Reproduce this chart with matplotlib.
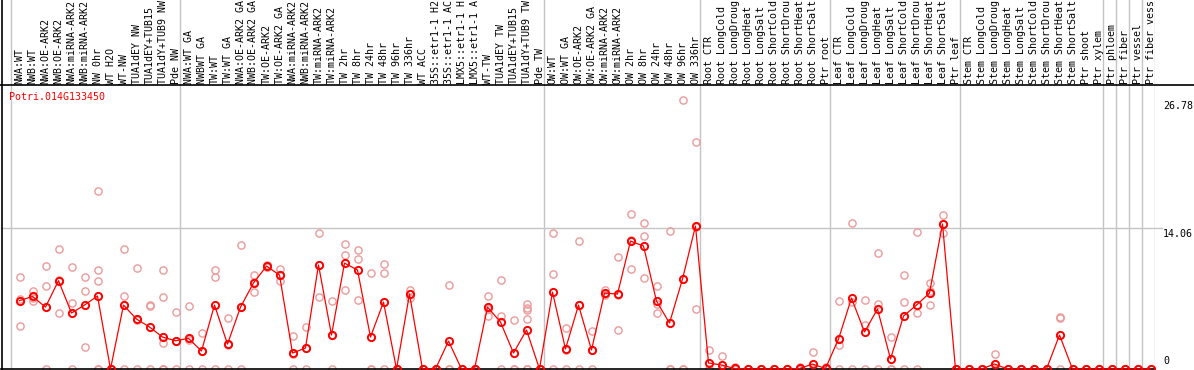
"""Expression profile of Potri.014G133450 across sample groups."""

import matplotlib

matplotlib.use("Agg")
import matplotlib.pyplot as plt
from matplotlib.lines import Line2D
from matplotlib.transforms import blended_transform_factory

GENE = "Potri.014G133450"

SAMPLES = [
    # NW
    "NWA:WT", "NWB:WT", "NWA:OE-ARK2", "NWB:OE-ARK2", "NWA:miRNA-ARK2",
    "NWB:miRNA-ARK2", "NW 0hr", "WT H2O", "WT-NW", "TUA1dEY NW",
    "TUA1dEY+TUB15 NW", "TUA1dY+TUB9 NW", "Pde NW",
    # TW
    "NWA:WT GA", "NWBWT GA", "TW:WT", "TW:WT GA", "NWA:OE-ARK2 GA",
    "NWB:OE-ARK2 GA", "TW:OE-ARK2", "TW:OE-ARK2 GA", "NWA:miRNA-ARK2 GA",
    "NWB:miRNA-ARK2 GA", "TW:miRNA-ARK2", "TW:miRNA-ARK2 GA", "TW 2hr",
    "TW 8hr", "TW 24hr", "TW 48hr", "TW 96hr", "TW 336hr", "WT ACC",
    "35S::etr1-1 H2O", "35S::etr1-1 ACC", "LMX5::etr1-1 H2O",
    "LMX5::etr1-1 ACC", "WT-TW", "TUA1dEY TW", "TUA1dEY+TUB15 TW",
    "TUA1dY+TUB9 TW", "Pde TW",
    # OW
    "OW:WT", "OW:WT GA", "OW:OE-ARK2", "OW:OE-ARK2 GA", "OW:miRNA-ARK2",
    "OW:miRNA-ARK2 GA", "OW 2hr", "OW 8hr", "OW 24hr", "OW 48hr", "OW 96hr",
    "OW 336hr",
    # root / leaf / stem
    "Root CTR", "Root LongCold", "Root LongDrought", "Root LongHeat",
    "Root LongSalt", "Root ShortCold", "Root ShortDrought", "Root ShortHeat",
    "Root ShortSalt", "Ptr root",
    "Leaf CTR", "Leaf LongCold", "Leaf LongDrought", "Leaf LongHeat",
    "Leaf LongSalt", "Leaf ShortCold", "Leaf ShortDrought", "Leaf ShortHeat",
    "Leaf ShortSalt", "Ptr leaf",
    "Stem CTR", "Stem LongCold", "Stem LongDrought", "Stem LongHeat",
    "Stem LongSalt", "Stem ShortCold", "Stem ShortDrought", "Stem ShortHeat",
    "Stem ShortSalt", "Ptr shoot", "Ptr xylem",
    "Ptr phloem", "Ptr fiber", "Ptr vessel", "Ptr fiber vessel",
]

GROUP_SIZES = [13, 28, 12, 10, 10, 11, 1, 1, 1, 1]

MEANS = [
    6.80, 7.22, 6.16, 8.79, 5.57, 6.36, 7.26, 0.00, 6.36, 4.97,
    4.18, 3.18, 2.81, 3.05, 1.79, 6.36, 2.48, 6.16, 8.56, 10.24,
    9.35, 1.59, 2.09, 10.35, 3.38, 10.54, 9.85, 3.18, 6.66, 0.00,
    7.46, 0.00, 0.00, 2.78, 0.00, 0.00, 6.16, 4.67, 1.59, 3.88,
    0.00, 7.65, 1.99, 6.36, 1.89, 7.56, 7.46, 12.73, 12.24, 6.76,
    4.57, 8.95, 14.23, 0.60, 0.40, 0.05, 0.00, 0.00, 0.00, 0.00,
    0.05, 0.49, 0.05, 2.98, 7.06, 3.68, 5.97, 0.99, 5.27, 6.36,
    7.56, 14.43, 0.00, 0.00, 0.00, 0.50, 0.00, 0.00, 0.00, 0.00,
    3.38, 0.00, 0.00, 0.00, 0.00, 0.00, 0.00, 0.00,
]

ZERO = [0, 0, 0]
REPLICATES = [
    [9.15, 6.96, 4.27], [7.79, 6.80, 7.07], [10.24, 8.25, 0], [11.94, 5.57, 8.86],
    [10.18, 6.53, 0], [9.15, 7.76, 2.19], [17.70, 9.85, 8.75, 0, 0], ZERO,
    [11.94, 7.26, 0], [10.05, 4.86, 0], [6.36, 6.23, 0], [9.85, 7.16, 2.58, 0, 0, 0],
    [5.67, 2.76, 0], [6.27, 2.88, 0], [3.58, 1.79, 0], [9.85, 9.15, 0],
    [5.07, 2.37, 0], [12.34, 6.14, 0], [9.35, 7.65, 8.68], [10.34, 10.20, 10.18],
    [9.95, 8.75, 9.35], [3.28, 1.49, 0], [4.18, 2.09, 0], [13.53, 7.16, 10.36],
    [6.76, 3.38, 0], [12.44, 11.34, 7.86], [11.84, 10.94, 6.86], [9.55, 0, 0],
    [10.44, 9.55, 0], ZERO, [7.86, 7.06, 7.46], ZERO,
    ZERO, [8.36, 0, 0], ZERO, ZERO,
    [7.26, 5.27, 5.95], [8.85, 5.24, 0], [4.87, 0, 0], [6.50, 6.07, 5.87, 4.97, 0, 0],
    ZERO, [13.53, 9.45, 0], [4.08, 1.89, 0], [12.73, 6.36, 0],
    [3.78, 1.89, 0], [7.86, 7.36, 7.46], [11.14, 3.88, 7.36], [15.42, 9.95, 12.82],
    [14.52, 13.23, 9.05], [8.26, 6.47, 5.57], [13.73, 0, 0], [26.78, 0, 0],
    [22.58, 5.97, 14.14], [1.89, 0, 0], [1.30, 0, 0], [0.15, 0, 0],
    ZERO, ZERO, ZERO, ZERO,
    [0.15, 0, 0], [1.69, 0, 0], [0.15, 0, 0], [6.76, 2.35, 0],
    [14.52, 6.66, 0], [6.86, 4.37, 0], [11.54, 6.47, 0], [3.18, 0, 0],
    [9.35, 6.66, 0], [13.63, 5.57, 0], [8.55, 6.37, 7.76], [15.32, 13.53, 14.43],
    ZERO, ZERO, ZERO, [1.49, 0, 0],
    ZERO, ZERO, ZERO, ZERO,
    [5.17, 5.07, 0], ZERO, ZERO, ZERO,
    ZERO, ZERO, ZERO, ZERO,
]

Y_TICKS = [26.78, 14.06, 0]

W, H = 1194, 370
HEADER = 85  # header band height in pixels
PLOT_RIGHT = 1155
LABEL_CHARS = 14  # the header only has room for this many characters
GRAY = "#c4c4c4"
PALE = "#ec9a9a"
MONO = "DejaVu Sans Mono"
FS = 7.2


def main() -> None:
    n = len(SAMPLES)
    xs = list(range(n))
    # column i sits at pixel 19.5 + 13 * i
    x_lo = (1 - 19.5) / 13
    x_hi = (PLOT_RIGHT - 19.5) / 13

    fig = plt.figure(figsize=(W / 100, H / 100), dpi=100)
    ax = fig.add_axes([1 / W, 1 / H, (PLOT_RIGHT - 1) / W, (H - 1 - HEADER) / H])
    hx = fig.add_axes([1 / W, 1 - HEADER / H, (PLOT_RIGHT - 1) / W, HEADER / H], sharex=ax)
    ax.set_xlim(x_lo, x_hi)
    ax.set_ylim(0, 26.78 * (H - 1 - HEADER) / (369.3 - 100.2))

    for s in ("top", "right", "left"):
        ax.spines[s].set_visible(False)
    ax.spines["bottom"].set_linewidth(1.2)
    ax.set_xticks([])
    ax.set_yticks([])
    hx.axis("off")

    # group separators
    bounds = [-0.67]
    start = 0
    for size in GROUP_SIZES:
        start += size
        bounds.append(start - 0.67)
    for b in bounds:
        ax.axvline(b, color=GRAY, lw=1.0, zorder=1)
        hx.axvline(b, color=GRAY, lw=1.0, zorder=1)

    ax.plot([x_lo, (1162 - 19.5) / 13], [14.06, 14.06], color=GRAY, lw=1.0,
            clip_on=False, zorder=1)

    # replicate points
    for x, reps in zip(xs, REPLICATES):
        ax.plot([x] * len(reps), reps, ls="none", marker="o", ms=5.2, mfc="none",
                mec=PALE, mew=1.0, clip_on=False, zorder=2)

    ax.plot(xs, MEANS, color="red", lw=0.9, marker="o", ms=5.2, mfc="none",
            mec="red", mew=1.4, clip_on=False, zorder=3)

    # header labels (fixed-width band, long names are cut like the source)
    for x, name in zip(xs, SAMPLES):
        hx.text(x, 1.5 / HEADER, name[:LABEL_CHARS].rstrip(), rotation=90,
                ha="center", va="bottom", family=MONO, fontsize=FS, color="black")

    fig.text(9.5 / W, 1 - 91.5 / H, GENE, color="red", family=MONO, fontsize=FS,
             ha="left", va="top")

    tr = blended_transform_factory(fig.transFigure, ax.transData)
    for v in Y_TICKS:
        va = "bottom" if v == 0 else "top"
        ax.text(1163 / W, v + (0.25 if v == 0 else -0.1), f"{v:g}" if v == 0 else f"{v:.2f}",
                transform=tr, ha="left", va=va, family=MONO, fontsize=FS)

    # frame lines
    fig.add_artist(Line2D([0, 1], [1 - HEADER / H] * 2, color="black", lw=1.2))
    fig.add_artist(Line2D([1.5 / W] * 2, [0, 1], color="black", lw=1.2))

    fig.savefig("out.png", dpi=100)


if __name__ == "__main__":
    main()
